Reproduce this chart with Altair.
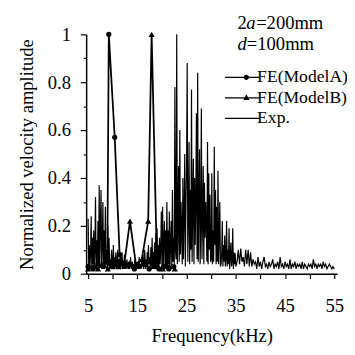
import altair as alt
import pandas as pd

# ---------------- data ----------------
series_names = ["FE(ModelA)", "FE(ModelB)", "Exp."]

# experimental spectrum, 5-35 kHz sampled every 0.125 kHz (one row per kHz)
exp_fine_start = 5.0
exp_fine_step = 0.125
exp_fine_amp = [
    0.23, 0.02, 0.12, 0.03, 0.08, 0.24, 0.02, 0.15,   # 5
    0.04, 0.18, 0.03, 0.10, 0.32, 0.02, 0.14, 0.03,   # 6
    0.22, 0.04, 0.37, 0.03, 0.20, 0.35, 0.02, 0.12,   # 7
    0.30, 0.03, 0.18, 0.02, 0.28, 0.04, 0.10, 0.02,   # 8
    0.20, 0.03, 0.15, 0.02, 0.06, 0.02, 0.10, 0.03,   # 9
    0.04, 0.12, 0.02, 0.07, 0.03, 0.09, 0.02, 0.05,   # 10
    0.10, 0.02, 0.06, 0.03, 0.08, 0.02, 0.04, 0.09,   # 11
    0.02, 0.05, 0.03, 0.08, 0.02, 0.04, 0.02, 0.06,   # 12
    0.03, 0.02, 0.05, 0.02, 0.04, 0.07, 0.02, 0.03,   # 13
    0.05, 0.02, 0.04, 0.02, 0.06, 0.03, 0.02, 0.04,   # 14
    0.02, 0.05, 0.03, 0.07, 0.02, 0.04, 0.02, 0.06,   # 15
    0.03, 0.08, 0.02, 0.05, 0.10, 0.02, 0.06, 0.03,   # 16
    0.09, 0.02, 0.12, 0.04, 0.07, 0.02, 0.11, 0.03,   # 17
    0.15, 0.02, 0.09, 0.03, 0.13, 0.02, 0.17, 0.04,   # 18
    0.19, 0.03, 0.12, 0.02, 0.15, 0.04, 0.10, 0.26,   # 19
    0.02, 0.28, 0.03, 0.14, 0.22, 0.02, 0.18, 0.03,   # 20
    0.30, 0.02, 0.18, 0.04, 0.26, 0.03, 0.12, 0.22,   # 21
    0.03, 0.35, 0.05, 0.15, 0.04, 0.78, 0.10, 0.06,   # 22
    1.00, 0.04, 0.20, 0.45, 0.05, 0.60, 0.08, 0.30,   # 23
    0.18, 0.04, 0.40, 0.06, 0.25, 0.50, 0.03, 0.30,   # 24
    0.45, 0.88, 0.05, 0.22, 0.55, 0.04, 0.35, 0.10,   # 25
    0.77, 0.05, 0.28, 0.48, 0.04, 0.40, 0.12, 0.30,   # 26
    0.67, 0.06, 0.84, 0.05, 0.30, 0.52, 0.04, 0.20,   # 27
    0.69, 0.06, 0.25, 0.45, 0.04, 0.38, 0.15, 0.30,   # 28
    0.20, 0.05, 0.55, 0.04, 0.42, 0.10, 0.33, 0.05,   # 29
    0.06, 0.42, 0.04, 0.18, 0.05, 0.53, 0.12, 0.35,   # 30
    0.04, 0.28, 0.05, 0.43, 0.04, 0.15, 0.30, 0.03,   # 31
    0.04, 0.08, 0.22, 0.03, 0.12, 0.05, 0.16, 0.03,   # 32
    0.06, 0.22, 0.03, 0.10, 0.04, 0.19, 0.02, 0.07,   # 33
    0.13, 0.03, 0.05, 0.19, 0.02, 0.09, 0.04, 0.085,  # 34
    0.03,                                             # 35.0
]
# experimental spectrum, 35.25-55 kHz sampled every 0.25 kHz
exp_coarse_start = 35.25
exp_coarse_step = 0.25
exp_coarse_amp = [
    0.05, 0.10, 0.04, 0.105, 0.05, 0.07, 0.03, 0.10,
    0.04, 0.10, 0.03, 0.09, 0.03, 0.06, 0.04, 0.05, 0.02, 0.07, 0.03, 0.05,
    0.02, 0.05, 0.07, 0.03, 0.04, 0.02, 0.05, 0.03, 0.04, 0.06,
    0.02, 0.04, 0.03, 0.05, 0.02, 0.07, 0.03, 0.04, 0.02, 0.05,
    0.03, 0.04, 0.02, 0.06, 0.02, 0.04, 0.03, 0.05, 0.02, 0.04,
    0.03, 0.04, 0.02, 0.05, 0.02, 0.04, 0.03, 0.02, 0.04, 0.03,
    0.04, 0.02, 0.06, 0.03, 0.04, 0.02, 0.04, 0.03, 0.04, 0.02,
    0.05, 0.03, 0.04, 0.02, 0.03, 0.04, 0.03, 0.02, 0.03, 0.02,
]

modelA_freq = [5, 6, 7, 8, 8.9, 9.2, 10.4, 11.4, 12.4, 13.4, 14.4, 15.4, 16.4,
               17.4, 18.4, 19.4, 20.4, 21.4, 22.4]
modelA_amp = [0.03, 0.02, 0.04, 0.03, 0.05, 1.0, 0.57, 0.08, 0.03, 0.04, 0.02,
              0.03, 0.04, 0.02, 0.03, 0.02, 0.03, 0.02, 0.03]

modelB_freq = [5, 6, 7, 8, 9, 10, 11.2, 12.4, 13.5, 14.7, 15.9, 17.2, 17.9,
               19.0, 20.2, 21.4, 22.6]
modelB_amp = [0.02, 0.03, 0.02, 0.04, 0.02, 0.03, 0.03, 0.05, 0.22, 0.04,
              0.06, 0.22, 1.0, 0.03, 0.02, 0.03, 0.02]

x_ticks = [5, 10, 15, 20, 25, 30, 35, 40, 45, 50, 55]
y_ticks = [0, 0.1, 0.2, 0.3, 0.4, 0.5, 0.6, 0.7, 0.8, 0.9, 1]

x_title = "Frequency(kHz)"
y_title = "Normalized velocity amplitude"

# ---------------- tables ----------------
exp_freq = ([exp_fine_start + exp_fine_step * i for i in range(len(exp_fine_amp))]
            + [exp_coarse_start + exp_coarse_step * i for i in range(len(exp_coarse_amp))])
exp_df = pd.DataFrame({"freq": exp_freq, "amp": exp_fine_amp + exp_coarse_amp})
a_df = pd.DataFrame({"freq": modelA_freq, "amp": modelA_amp})
b_df = pd.DataFrame({"freq": modelB_freq, "amp": modelB_amp})

FONT = "Liberation Serif"
FS = 19

x_scale = alt.Scale(domain=[4.6, 55.6], nice=False, zero=False)
y_scale = alt.Scale(domain=[0, 1], nice=False)

x_axis = alt.Axis(
    values=x_ticks,
    labelExpr="datum.value % 10 == 5 ? datum.label : ''",
    tickSize=5, labelPadding=19, title=x_title, titlePadding=11,
    grid=False, labelFont=FONT, labelFontSize=FS, titleFont=FONT,
    titleFontSize=FS, titleFontWeight="normal", labelColor="black",
    titleColor="black", domainColor="black", tickColor="black",
    domainWidth=1.5, tickWidth=1.2,
)
y_axis = alt.Axis(
    values=y_ticks, format="~g",
    labelExpr="round(datum.value*10) % 2 == 0 ? datum.label : ''",
    tickSize={"condition": {"test": "round(datum.value*10) % 2 == 0", "value": 6}, "value": 3},
    labelPadding=10, title=y_title, titlePadding=11,
    grid=False, labelFont=FONT, labelFontSize=FS, titleFont=FONT,
    titleFontSize=FS, titleFontWeight="normal", labelColor="black",
    titleColor="black", domainColor="black", tickColor="black",
    domainWidth=1.5, tickWidth=1.2,
)

X = alt.X("freq:Q", scale=x_scale, axis=x_axis)
Y = alt.Y("amp:Q", scale=y_scale, axis=y_axis)

exp_line = alt.Chart(exp_df).mark_line(color="black", strokeWidth=1.2).encode(x=X, y=Y)
a_line = alt.Chart(a_df).mark_line(color="black", strokeWidth=1.8).encode(x=X, y=Y)
b_line = alt.Chart(b_df).mark_line(color="black", strokeWidth=1.8).encode(x=X, y=Y)
a_pts = alt.Chart(a_df).mark_point(filled=True, color="black", opacity=1, size=28,
                                   shape="circle").encode(x=X, y=Y)
b_pts = alt.Chart(b_df).mark_point(filled=True, color="black", opacity=1, size=40,
                                   shape="triangle-up").encode(x=X, y=Y)

# legend symbols: short line (thin filled bar) with marker (unit = 9 px)
legend_paths = [
    "M-2.33,-0.08H-0.19V0.08H-2.33Z"
    "M0.41,-0.08H1.56V0.08H0.41Z"
    "M-0.19,0A0.3,0.3,0,1,0,0.41,0A0.3,0.3,0,1,0,-0.19,0Z",
    "M-2.33,-0.08H-0.1V0.08H-2.33Z"
    "M0.32,-0.08H1.56V0.08H0.32Z"
    "M-0.24,0.25L0.11,-0.4L0.46,0.25Z",
    "M-2.33,-0.07H1.56V0.07H-2.33Z",
]
legend_layer = alt.Chart(pd.DataFrame({"series": series_names})).mark_point(
    filled=True, color="black", opacity=0
).encode(
    shape=alt.Shape(
        "series:N",
        scale=alt.Scale(domain=series_names, range=legend_paths),
        legend=alt.Legend(
            title=None, orient="none", legendX=153, legendY=34,
            labelFont=FONT, labelFontSize=18, labelColor="black",
            symbolSize=324, symbolFillColor="black",
            symbolOpacity=1, labelOffset=2,
            rowPadding=2, padding=0, labelLimit=0,
        ),
    )
)


def note(text, x, y, italic=False):
    return alt.Chart(pd.DataFrame({"t": [text]})).mark_text(
        font=FONT, fontSize=FS, align="left", baseline="alphabetic",
        color="black", fontStyle="italic" if italic else "normal",
    ).encode(x=alt.value(x), y=alt.value(y), text="t:N")


notes = [
    note("2", 155, -6), note("a", 164, -6, True), note("=200mm", 174, -6),
    note("d", 155, 16, True), note("=100mm", 164.5, 16),
]

chart = alt.layer(
    exp_line, a_line, b_line, a_pts, b_pts, legend_layer, *notes
).properties(
    width=257, height=245,
    autosize=alt.AutoSizeParams(type="none"),
    padding={"left": 80, "top": 23, "right": 10, "bottom": 70},
    background="white",
).configure_view(stroke=None)

chart.save("out.html", embed_options={"renderer": "svg", "actions": False})
